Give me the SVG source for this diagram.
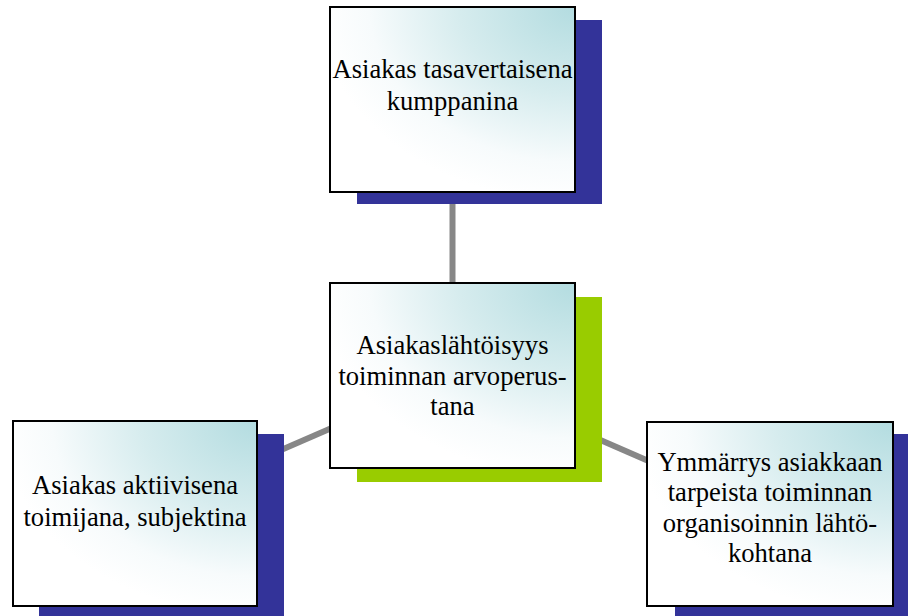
<svg xmlns="http://www.w3.org/2000/svg" width="908" height="616" viewBox="0 0 908 616">
  <defs>
    <!-- corner fill: pale teal in the top-right corner fading to white -->
    <radialGradient id="boxFill" cx="1" cy="0" r="1.05" fx="1" fy="0">
      <stop offset="0" stop-color="#b3dce0"/>
      <stop offset="0.45" stop-color="#d6ecee"/>
      <stop offset="0.8" stop-color="#f7fbfc"/>
      <stop offset="1" stop-color="#ffffff"/>
    </radialGradient>
  </defs>
  <style>
    .box { fill: url(#boxFill); stroke: #000; stroke-width: 2; }
    .shadow-blue { fill: #333399; }
    .shadow-green { fill: #99cc00; }
    .link { stroke: #878787; stroke-width: 6; fill: none; }
    .label { font-size: 26.6px; fill: #000; text-anchor: middle; }
  </style>

  <rect width="908" height="616" fill="#ffffff"/>

  <!-- connectors, running from the centre node to each outer node -->
  <g id="connectors">
    <line class="link" x1="452.5" y1="375.5" x2="452.5" y2="99.5"/>
    <line class="link" x1="452.5" y1="375.5" x2="135" y2="513.5"/>
    <line class="link" x1="452.5" y1="375.5" x2="770" y2="514"/>
  </g>

  <g font-family="'Liberation Serif', 'DejaVu Serif', serif">
    <g id="node-top">
      <rect class="shadow-blue" x="357" y="20" width="245" height="184"/>
      <rect class="box" x="330" y="7" width="245" height="185"/>
      <text class="label" x="452.5" y="78">Asiakas tasavertaisena</text>
      <text class="label" x="452.5" y="110">kumppanina</text>
    </g>

    <g id="node-center">
      <rect class="shadow-green" x="357" y="297" width="245" height="185"/>
      <rect class="box" x="330" y="283" width="245" height="185"/>
      <text class="label" x="452.5" y="354">Asiakaslähtöisyys</text>
      <text class="label" x="452.5" y="385">toiminnan arvoperus-</text>
      <text class="label" x="452.5" y="415">tana</text>
    </g>

    <g id="node-left">
      <rect class="shadow-blue" x="39" y="434" width="245" height="182"/>
      <rect class="box" x="13" y="421" width="244" height="185"/>
      <text class="label" x="135" y="494">Asiakas aktiivisena</text>
      <text class="label" x="135" y="526">toimijana, subjektina</text>
    </g>

    <g id="node-right">
      <rect class="shadow-blue" x="675" y="434" width="233" height="182"/>
      <rect class="box" x="647" y="422" width="246" height="184"/>
      <text class="label" x="770" y="471">Ymmärrys asiakkaan</text>
      <text class="label" x="770" y="501">tarpeista toiminnan</text>
      <text class="label" x="770" y="532">organisoinnin lähtö-</text>
      <text class="label" x="770" y="562">kohtana</text>
    </g>
  </g>
</svg>
